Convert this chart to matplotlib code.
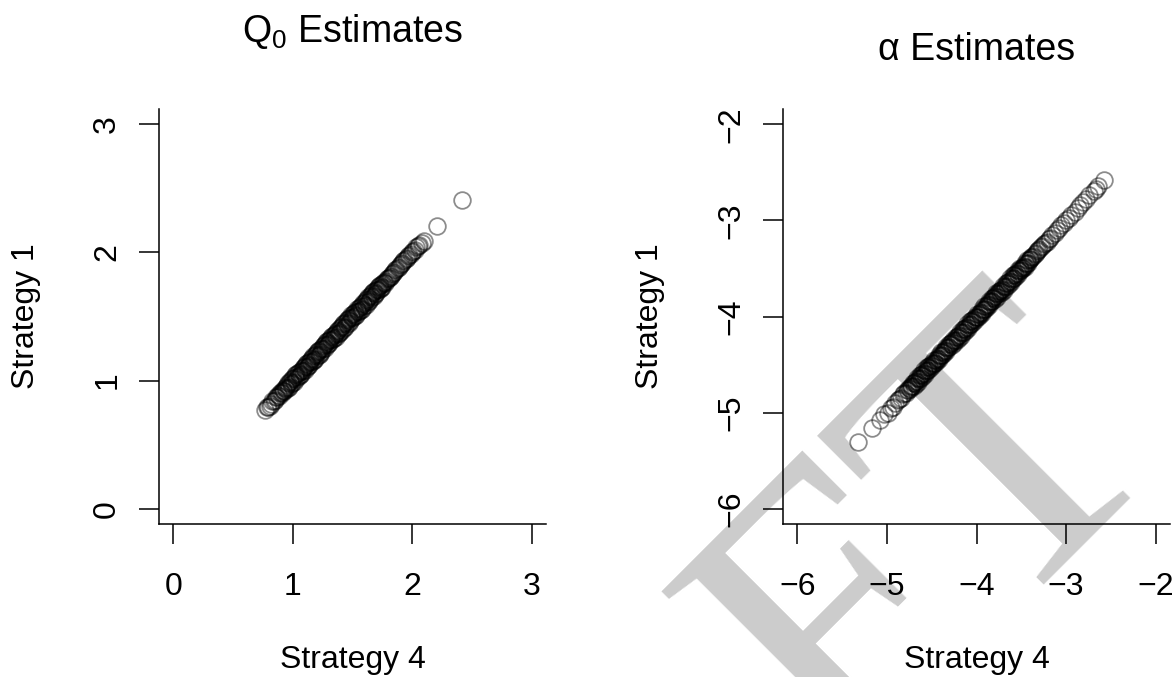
import matplotlib
matplotlib.use("Agg")
import matplotlib.pyplot as plt

plt.rcParams["font.family"] = ["Liberation Sans", "DejaVu Sans"]
plt.rcParams["mathtext.fontset"] = "custom"
plt.rcParams["mathtext.rm"] = "Liberation Sans"
plt.rcParams["mathtext.it"] = "Liberation Sans:italic"

# ---------------------------------------------------------------------------
# Data: Q0 estimates (Strategy 4 on x, Strategy 1 on y)
# ---------------------------------------------------------------------------
q0_strategy4 = [
    0.770, 0.781, 0.794, 0.806, 0.818, 0.829, 0.841, 0.852, 0.862, 0.871,
    0.880, 0.888, 0.896, 0.903, 0.910, 0.916, 0.922, 0.928, 0.934, 0.940,
    0.945, 0.952, 0.956, 0.963, 0.969, 0.973, 0.980, 0.986, 0.990, 0.997,
    1.003, 1.008, 1.015, 1.019, 1.026, 1.031, 1.035, 1.042, 1.048, 1.052,
    1.059, 1.065, 1.069, 1.076, 1.082, 1.086, 1.093, 1.099, 1.103, 1.110,
    1.116, 1.120, 1.127, 1.133, 1.137, 1.144, 1.150, 1.154, 1.161, 1.167,
    1.171, 1.178, 1.184, 1.188, 1.195, 1.201, 1.205, 1.212, 1.218, 1.222,
    1.229, 1.235, 1.239, 1.246, 1.252, 1.256, 1.263, 1.269, 1.273, 1.280,
    1.286, 1.290, 1.297, 1.303, 1.307, 1.314, 1.320, 1.324, 1.331, 1.337,
    1.341, 1.348, 1.354, 1.358, 1.365, 1.371, 1.375, 1.382, 1.388, 1.392,
    1.399, 1.405, 1.409, 1.416, 1.422, 1.426, 1.433, 1.439, 1.443, 1.450,
    1.456, 1.460, 1.467, 1.473, 1.477, 1.484, 1.490, 1.494, 1.501, 1.507,
    1.511, 1.518, 1.524, 1.528, 1.535, 1.541, 1.545, 1.552, 1.558, 1.562,
    1.569, 1.575, 1.579, 1.586, 1.592, 1.596, 1.603, 1.609, 1.613, 1.620,
    1.626, 1.630, 1.637, 1.643, 1.647, 1.654, 1.660, 1.664, 1.671, 1.677,
    1.681, 1.688, 1.694, 1.698, 1.705, 1.711, 1.715, 1.722, 1.728, 1.732,
    1.739, 1.745, 1.750,
    1.757, 1.765, 1.771, 1.780, 1.788, 1.795, 1.804, 1.812, 1.821, 1.829,
    1.840, 1.848, 1.858, 1.867, 1.878, 1.886, 1.897, 1.906, 1.915, 1.926,
    1.935, 1.946, 1.955, 1.966, 1.975, 1.988, 1.998, 2.010, 2.022, 2.035,
    2.048, 2.060, 2.078, 2.095, 2.210, 2.415,
]
q0_strategy1 = [
    0.77, 0.79, 0.79, 0.80, 0.82, 0.84, 0.84, 0.85, 0.87, 0.87,
    0.89, 0.88, 0.90, 0.91, 0.90, 0.92, 0.93, 0.92, 0.94, 0.95,
    0.935, 0.968, 0.944, 0.977, 0.951, 0.987, 1.000, 0.974, 1.010, 0.983,
    1.017, 0.992, 1.025, 1.041, 1.014, 1.049, 1.025, 1.058, 1.032, 1.068,
    1.041, 1.075, 1.051, 1.084, 1.098, 1.074, 1.107, 1.081, 1.117, 1.130,
    1.104, 1.140, 1.113, 1.147, 1.123, 1.156, 1.170, 1.146, 1.179, 1.153,
    1.189, 1.162, 1.196, 1.172, 1.205, 1.219, 1.195, 1.228, 1.202, 1.238,
    1.211, 1.245, 1.221, 1.254, 1.268, 1.244, 1.277, 1.251, 1.287, 1.300,
    1.274, 1.310, 1.283, 1.317, 1.293, 1.326, 1.340, 1.316, 1.349, 1.323,
    1.359, 1.332, 1.366, 1.342, 1.375, 1.389, 1.365, 1.398, 1.372, 1.408,
    1.381, 1.415, 1.391, 1.424, 1.438, 1.414, 1.447, 1.421, 1.457, 1.470,
    1.444, 1.480, 1.453, 1.487, 1.463, 1.496, 1.510, 1.486, 1.519, 1.493,
    1.529, 1.502, 1.536, 1.512, 1.545, 1.559, 1.535, 1.568, 1.542, 1.578,
    1.551, 1.585, 1.561, 1.594, 1.608, 1.584, 1.617, 1.591, 1.627, 1.640,
    1.614, 1.650, 1.623, 1.657, 1.633, 1.666, 1.680, 1.656, 1.689, 1.663,
    1.699, 1.672, 1.706, 1.682, 1.715, 1.729, 1.705, 1.738, 1.712, 1.748,
    1.721, 1.755, 1.730,
    1.76, 1.77, 1.76, 1.78, 1.79, 1.80, 1.80, 1.81, 1.82, 1.83,
    1.84, 1.85, 1.86, 1.87, 1.88, 1.89, 1.90, 1.91, 1.92, 1.93,
    1.94, 1.95, 1.96, 1.97, 1.98, 1.99, 2.00, 2.01, 2.02, 2.04,
    2.05, 2.06, 2.07, 2.09, 2.21, 2.41,
]

# ---------------------------------------------------------------------------
# Data: alpha estimates (Strategy 4 on x, Strategy 1 on y)
# ---------------------------------------------------------------------------
alpha_strategy4 = [
    -5.320, -5.165, -5.080, -5.030, -4.990, -4.960, -4.930, -4.905, -4.880, -4.860,
    -4.840, -4.822, -4.805, -4.790, -4.776, -4.763, -4.751, -4.742, -4.734, -4.726,
    -4.718, -4.711, -4.702, -4.696, -4.686, -4.678, -4.671, -4.662, -4.656, -4.646,
    -4.638, -4.631, -4.622, -4.616, -4.606, -4.598, -4.591, -4.582, -4.576, -4.566,
    -4.558, -4.551, -4.542, -4.536, -4.526, -4.518, -4.511, -4.502, -4.496, -4.486,
    -4.478, -4.471, -4.462, -4.456, -4.446, -4.438, -4.431, -4.422, -4.416, -4.406,
    -4.398, -4.391, -4.382, -4.376, -4.366, -4.358, -4.351, -4.342, -4.336, -4.326,
    -4.318, -4.311, -4.302, -4.296, -4.286, -4.278, -4.271, -4.262, -4.256, -4.246,
    -4.238, -4.231, -4.222, -4.216, -4.206, -4.198, -4.191, -4.182, -4.176, -4.166,
    -4.158, -4.151, -4.142, -4.136, -4.126, -4.118, -4.111, -4.102, -4.096, -4.086,
    -4.078, -4.071, -4.062, -4.056, -4.046, -4.038, -4.031, -4.022, -4.016, -4.006,
    -3.998, -3.991, -3.982, -3.976, -3.966, -3.958, -3.951, -3.942, -3.936, -3.926,
    -3.918, -3.911, -3.902, -3.896, -3.886, -3.878, -3.871, -3.862, -3.856, -3.846,
    -3.838, -3.831, -3.822, -3.816, -3.806, -3.798, -3.791, -3.782, -3.776, -3.766,
    -3.758, -3.751, -3.742, -3.736, -3.726, -3.718, -3.711, -3.702, -3.696, -3.686,
    -3.678, -3.671, -3.662, -3.656, -3.646, -3.638, -3.631, -3.622, -3.616, -3.606,
    -3.598, -3.591, -3.582, -3.576, -3.566, -3.558, -3.551, -3.542, -3.536, -3.526,
    -3.518, -3.511, -3.502, -3.496, -3.486, -3.478, -3.471, -3.462, -3.456, -3.446,
    -3.438, -3.431, -3.422, -3.416, -3.406,
    -3.398, -3.388, -3.377, -3.365, -3.352, -3.340, -3.326, -3.312, -3.298, -3.283,
    -3.268, -3.250, -3.232, -3.215, -3.196, -3.175, -3.152, -3.128, -3.105, -3.080,
    -3.052, -3.025, -3.000, -2.972, -2.940, -2.905, -2.872, -2.840, -2.810, -2.775,
    -2.740, -2.690, -2.665, -2.640, -2.582,
]
alpha_strategy1 = [
    -5.31, -5.16, -5.08, -5.02, -5.00, -4.95, -4.94, -4.90, -4.87, -4.86,
    -4.85, -4.81, -4.80, -4.80, -4.77, -4.76, -4.74, -4.75, -4.73, -4.72,
    -4.72, -4.69, -4.72, -4.69, -4.68, -4.70, -4.67, -4.64, -4.68, -4.65,
    -4.64, -4.61, -4.64, -4.61, -4.60, -4.62, -4.59, -4.56, -4.60, -4.57,
    -4.56, -4.53, -4.56, -4.53, -4.52, -4.54, -4.51, -4.48, -4.52, -4.49,
    -4.48, -4.45, -4.48, -4.45, -4.44, -4.46, -4.43, -4.40, -4.44, -4.41,
    -4.40, -4.37, -4.40, -4.37, -4.36, -4.38, -4.35, -4.32, -4.36, -4.33,
    -4.32, -4.29, -4.32, -4.29, -4.28, -4.30, -4.27, -4.24, -4.28, -4.25,
    -4.24, -4.21, -4.24, -4.21, -4.20, -4.22, -4.19, -4.16, -4.20, -4.17,
    -4.16, -4.13, -4.16, -4.13, -4.12, -4.14, -4.11, -4.08, -4.12, -4.09,
    -4.08, -4.05, -4.08, -4.05, -4.04, -4.06, -4.03, -4.00, -4.04, -4.01,
    -4.00, -3.97, -4.00, -3.97, -3.96, -3.98, -3.95, -3.92, -3.96, -3.93,
    -3.92, -3.89, -3.92, -3.89, -3.88, -3.90, -3.87, -3.84, -3.88, -3.85,
    -3.84, -3.81, -3.84, -3.81, -3.80, -3.82, -3.79, -3.76, -3.80, -3.77,
    -3.76, -3.73, -3.76, -3.73, -3.72, -3.74, -3.71, -3.68, -3.72, -3.69,
    -3.68, -3.65, -3.68, -3.65, -3.64, -3.66, -3.63, -3.60, -3.64, -3.61,
    -3.60, -3.57, -3.60, -3.57, -3.56, -3.58, -3.55, -3.52, -3.56, -3.53,
    -3.52, -3.49, -3.52, -3.49, -3.48, -3.50, -3.47, -3.44, -3.48, -3.45,
    -3.44, -3.41, -3.44, -3.41, -3.40,
    -3.40, -3.38, -3.38, -3.37, -3.35, -3.34, -3.32, -3.31, -3.30, -3.28,
    -3.27, -3.25, -3.23, -3.22, -3.19, -3.18, -3.15, -3.13, -3.10, -3.08,
    -3.05, -3.03, -3.00, -2.97, -2.94, -2.91, -2.87, -2.84, -2.81, -2.78,
    -2.74, -2.69, -2.67, -2.64, -2.58,
]

q0_ticks = [0, 1, 2, 3]
alpha_ticks = [-6, -5, -4, -3, -2]

# ---------------------------------------------------------------------------
# Figure, two panels placed like R's par(mfrow = c(1, 2))
# ---------------------------------------------------------------------------
W, H = 1176, 677
fig = plt.figure(figsize=(W / 100, H / 100), dpi=100)
fig.patch.set_facecolor("white")

bottom = 1 - 524 / H
height = (524 - 109) / H
ax1 = fig.add_axes([159 / W, bottom, (546 - 159) / W, height])
ax2 = fig.add_axes([783 / W, bottom, (1170 - 783) / W, height])

# watermark behind the panels
fig.text(0.712, -0.150, "FT", family="Liberation Serif", fontsize=292,
         color="#cccccc", rotation=45, rotation_mode="anchor",
         ha="left", va="baseline", zorder=-1)

ring = dict(ls="none", marker="o", ms=12, mfc="none",
            mec=(0, 0, 0, 0.45), mew=1.3)


def style(ax, ticks, lims, title, title_pad):
    ax.set_facecolor("none")
    ax.set_xlim(*lims)
    ax.set_ylim(*lims)
    ax.set_xticks(ticks)
    ax.set_yticks(ticks)
    for side in ("top", "right"):
        ax.spines[side].set_visible(False)
    for side in ("left", "bottom"):
        ax.spines[side].set_linewidth(1.1)
    ax.tick_params(length=14.5, width=1.1, labelsize=23)
    ax.tick_params(axis="x", pad=20)
    ax.tick_params(axis="y", pad=12, labelrotation=90)
    for lab in ax.get_yticklabels():
        lab.set_va("center")
    ax.set_xlabel("Strategy 4", fontsize=23)
    ax.set_ylabel("Strategy 1", fontsize=23)
    ax.xaxis.set_label_coords(0.5, -0.292)
    ax.yaxis.set_label_coords(-0.305, 0.5)
    ax.set_title(title, fontsize=27, pad=title_pad)


ax1.plot(q0_strategy4, q0_strategy1, **ring)
style(ax1, q0_ticks, (-0.12, 3.12), r"Q$_0$ Estimates", 48)

ax2.plot(alpha_strategy4, alpha_strategy1, **ring)
style(ax2, alpha_ticks, (-6.16, -1.84), "α Estimates", 35)

fig.savefig("out.png", dpi=100)
